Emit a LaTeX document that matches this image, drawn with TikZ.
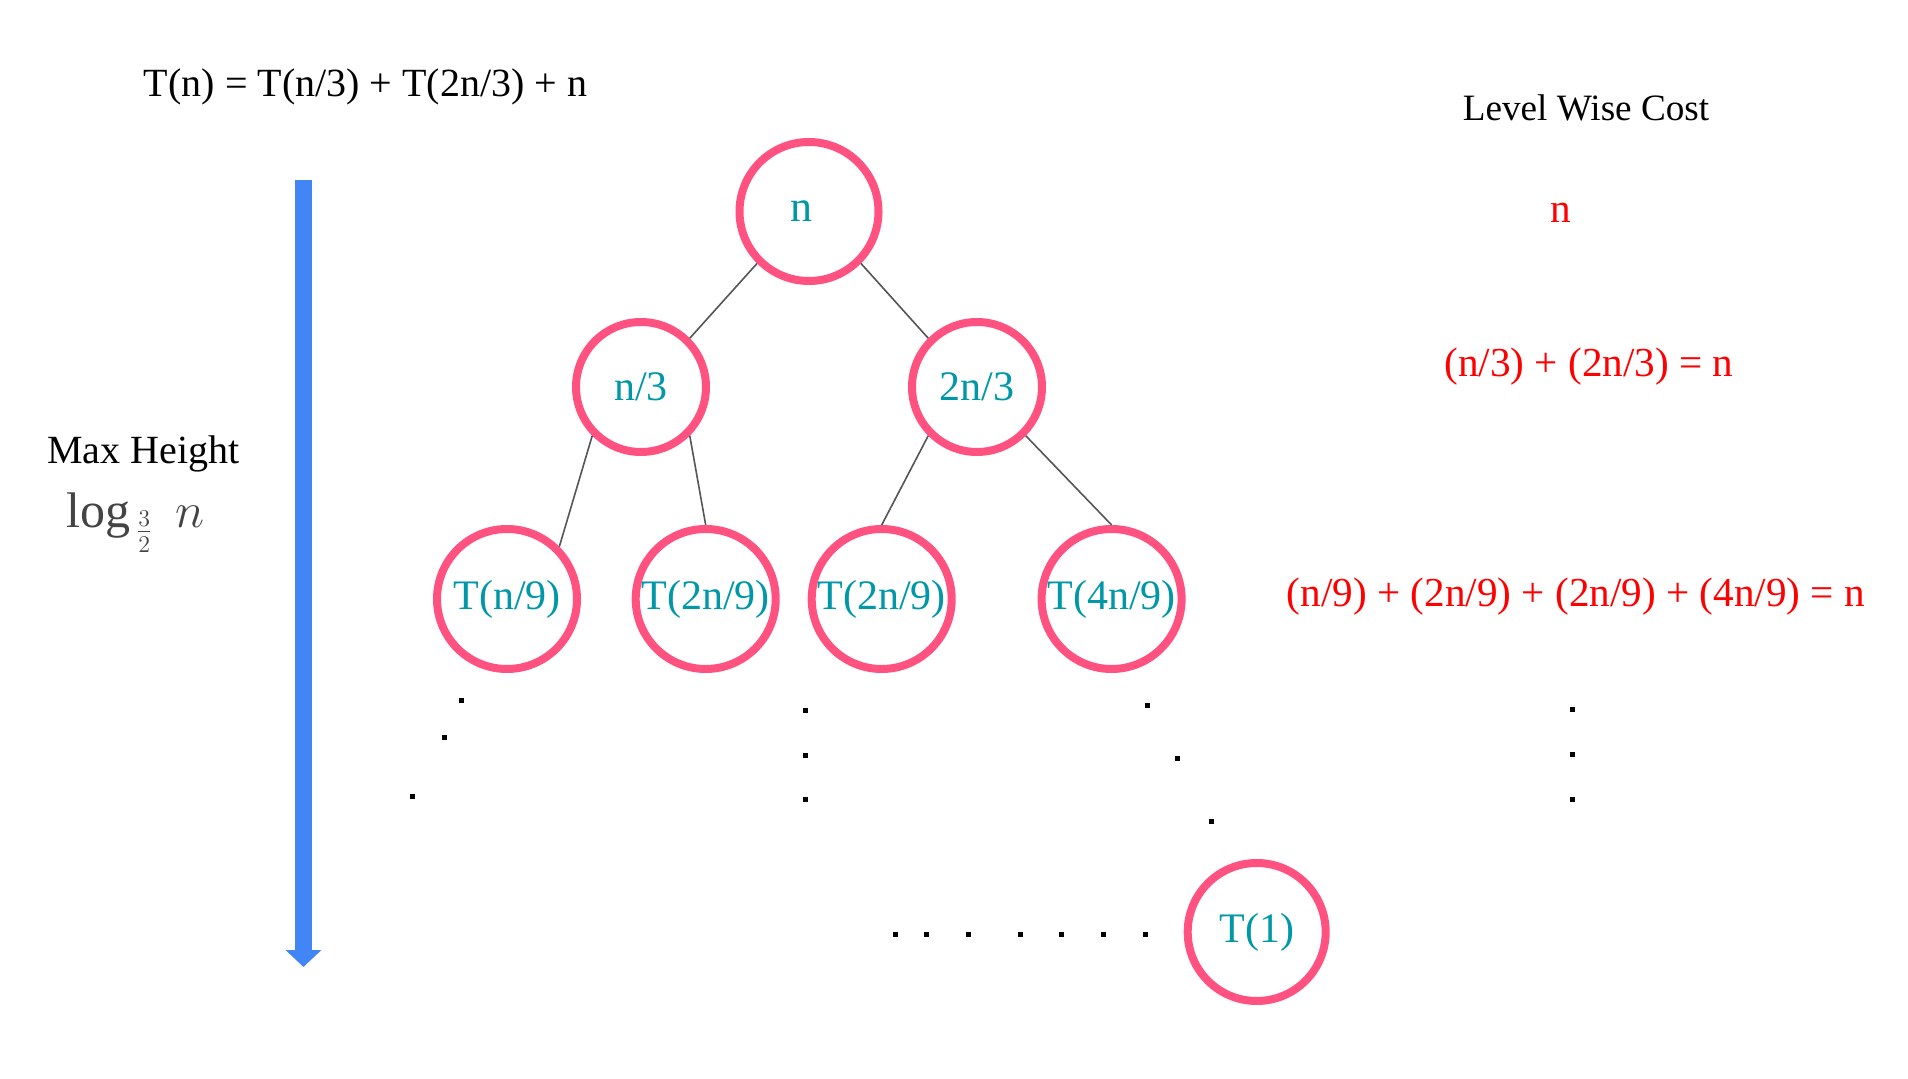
\documentclass[tikz,border=0pt]{standalone}
\usepackage{fontspec}
\setmainfont{Liberation Serif}
\usetikzlibrary{arrows.meta}
\definecolor{ringpink}{RGB}{255,82,128}
\definecolor{tealtxt}{RGB}{0,151,167}
\definecolor{edgegray}{RGB}{85,85,85}
\definecolor{arrowblue}{RGB}{66,133,244}
\definecolor{loggray}{RGB}{68,68,68}
\begin{document}
\begin{tikzpicture}[x=0.5pt,y=-0.5pt,
  treenode/.style={circle,draw=ringpink,line width=4pt,inner sep=0pt,minimum size=70pt,text=tealtxt,font=\fontsize{21}{25}\selectfont},
  midnode/.style={treenode,minimum size=65pt},
  treeedge/.style={draw=edgegray,line width=0.8pt},
  blacktext/.style={font=\fontsize{20}{24}\selectfont,anchor=base,inner sep=0pt},
  costtext/.style={font=\fontsize{20.6}{24}\selectfont,text=red,anchor=base,inner sep=0pt},
  dotmark/.style={fill=black,inner sep=0pt,minimum size=2.5pt,draw=none,rectangle}
]
\useasboundingbox (0,0) rectangle (1908,1079);

% texts
\node[blacktext] (title) at (365.5,96.7) {T(n) = T(n/3) + T(2n/3) + n};
\node[blacktext,font=\fontsize{18.6}{22}\selectfont] (lwc) at (1586,121) {Level Wise Cost};
\node[blacktext] (maxh) at (143.5,464) {Max Height};
\node[anchor=base,inner sep=0pt,text=loggray,font=\fontsize{25}{30}\selectfont] (logh) at (135.5,528) {$\log_{\,\frac{3}{2}}\;n$};

% cost column
\node[costtext] (cost0) at (1561,223) {n};
\node[costtext] (cost1) at (1589,377) {(n/3) + (2n/3) = n};
\node[costtext] (cost2) at (1576,607) {(n/9) + (2n/9) + (2n/9) + (4n/9) = n};

% blue arrow
\coordinate (atop) at (303.5,180);
\coordinate (atip) at (303.5,967);
\draw[arrowblue,line width=8.5pt,-{Triangle[width=17.5pt,length=8.5pt]}] (atop) -- (atip);

% tree nodes
\node[treenode,minimum size=69.5pt,font=\fontsize{22}{26}\selectfont] (root) at (809,211.5) {n\kern8pt};
\node[midnode] (n3) at (641,387) {n/3};
\node[midnode] (tn3) at (977,387) {2n/3};
\node[treenode] (c1) at (507,599) {T(n/9)};
\node[treenode] (c2) at (705.7,599) {T(2n/9)};
\node[treenode] (c3) at (881.7,599) {T(2n/9)};
\node[treenode] (c4) at (1111.6,599) {T(4n/9)};
\node[treenode,minimum size=69pt] (t1) at (1256.7,932) {T(1)};

% edges
\draw[treeedge] (root.225) -- (n3.45);
\draw[treeedge] (root.315) -- (tn3.135);
\draw[treeedge] (n3.225) -- (c1.45);
\draw[treeedge] (n3.315) -- (c2.90);
\draw[treeedge] (tn3.225) -- (c3.90);
\draw[treeedge] (tn3.315) -- (c4.90);

% dots
\node[dotmark] (dl1) at (461.7,700.3) {};
\node[dotmark] (dl2) at (444,737.3) {};
\node[dotmark] (dl3) at (412,796.3) {};
\node[dotmark] (dm1) at (805,710.3) {};
\node[dotmark] (dm2) at (805,755.3) {};
\node[dotmark] (dm3) at (805,800) {};
\node[dotmark] (dr1) at (1147.7,705.3) {};
\node[dotmark] (dr2) at (1177,758.3) {};
\node[dotmark] (dr3) at (1211.7,821.3) {};
\node[dotmark] (dc1) at (1572,710) {};
\node[dotmark] (dc2) at (1572,755) {};
\node[dotmark] (dc3) at (1572,800) {};
\node[dotmark] (db1) at (895,935) {};
\node[dotmark] (db2) at (926.7,935) {};
\node[dotmark] (db3) at (968,935) {};
\node[dotmark] (db4) at (1020,935) {};
\node[dotmark] (db5) at (1061.7,935) {};
\node[dotmark] (db6) at (1103,935) {};
\node[dotmark] (db7) at (1145,935) {};
\end{tikzpicture}
\end{document}
